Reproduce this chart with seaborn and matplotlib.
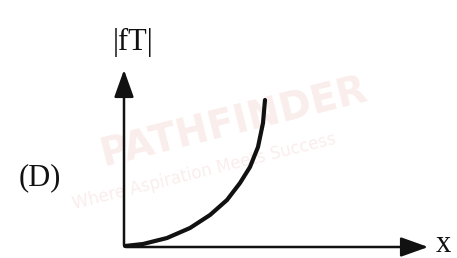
import matplotlib
matplotlib.use("Agg")
import matplotlib.pyplot as plt
import seaborn as sns
import pandas as pd

# curve data (units: px from origin)
curve_x = [1, 19, 43, 66, 86, 103, 116, 126, 134, 139, 141]
curve_y = [1, 3, 9, 19, 32, 47, 64, 80, 100, 124, 147]
y_label = "|fT|"
x_label = "x"
panel_label = "(D)"

sns.set_theme(style="white")
plt.rcParams['font.family'] = ['Liberation Serif', 'DejaVu Serif']

fig = plt.figure(figsize=(4.57, 2.58), dpi=100)
ax = fig.add_axes([0, 0, 1, 1])
ax.set_xlim(-124, 333)
ax.set_ylim(-11, 247)
ax.axis('off')

# faint watermark
wm = '#faeeec'
ax.text(110, 125, "PATHFINDER", fontsize=28, fontweight='bold', color=wm,
        rotation=14, ha='center', va='center', family='DejaVu Sans', zorder=0)
ax.text(80, 75, "Where Aspiration Meets Success", fontsize=12, color=wm,
        rotation=14, ha='center', va='center', family='DejaVu Sans', zorder=0)

df = pd.DataFrame({"x": curve_x, "y": curve_y})
sns.lineplot(data=df, x="x", y="y", ax=ax, color='#111111', lw=3.0, sort=False)
ax.set_xlabel(""); ax.set_ylabel("")

arrow = dict(arrowstyle='-|>,head_length=1.4,head_width=0.5', color='#111111', lw=1.8)
ax.annotate("", xy=(0, 180), xytext=(0, -1), arrowprops=arrow)
ax.annotate("", xy=(307, 0), xytext=(-1, 0), arrowprops=arrow)

ax.text(9, 205, y_label, fontsize=22, ha='center', va='center', color='#111111')
ax.text(319, 2, x_label, fontsize=22, ha='center', va='center', color='#111111')
ax.text(-84, 69, panel_label, fontsize=22, ha='center', va='center', color='#111111')

fig.savefig("out.png", dpi=100)
